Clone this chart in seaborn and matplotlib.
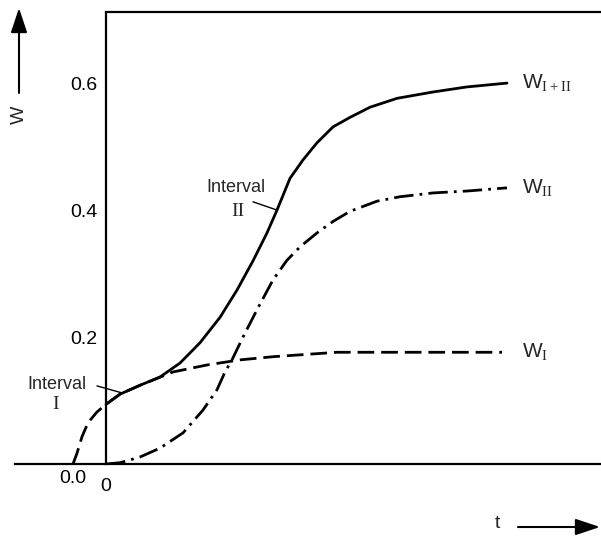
import numpy as np
import pandas as pd
import matplotlib
matplotlib.use("Agg")
import matplotlib.pyplot as plt
import seaborn as sns

# Cumulative curves W(t) for the two intervals and their combination
t_i = [-0.33, -0.29, -0.24, -0.18, -0.09, 0.0, 0.14, 0.34, 0.67, 1.01, 1.34, 1.67,
       2.31, 3.24, 3.96]
w_i = [0.0, 0.017, 0.043, 0.065, 0.082, 0.094, 0.110, 0.124, 0.145, 0.156, 0.164,
       0.169, 0.176, 0.176, 0.176]

t_ii = [0.0, 0.14, 0.34, 0.54, 0.77, 0.97, 1.11, 1.19, 1.26, 1.37, 1.51, 1.67, 1.81,
        1.94, 2.11, 2.27, 2.44, 2.71, 2.94, 3.27, 3.61, 4.01]
w_ii = [0.0, 0.002, 0.011, 0.025, 0.049, 0.085, 0.117, 0.145, 0.164, 0.200, 0.243,
        0.290, 0.321, 0.342, 0.364, 0.382, 0.398, 0.414, 0.421, 0.427, 0.430, 0.435]

t_sum = [0.0, 0.14, 0.34, 0.54, 0.74, 0.94, 1.14, 1.31, 1.47, 1.61, 1.71, 1.84, 1.97,
         2.11, 2.27, 2.44, 2.64, 2.91, 3.27, 3.61, 4.01]
w_sum = [0.094, 0.110, 0.124, 0.137, 0.159, 0.191, 0.231, 0.274, 0.320, 0.364, 0.400,
         0.450, 0.479, 0.506, 0.531, 0.546, 0.562, 0.576, 0.586, 0.594, 0.600]

y_ticks = [0.2, 0.4, 0.6]
y_ticklabels = ["0.2", "0.4", "0.6"]
x_ticks = [-0.33, 0.0]
x_ticklabels = ["0.0", "0"]

series_names = ["W_I", "W_II", "W_I+II"]
curve_labels = [r"$\mathsf{W}_{\mathrm{I}}$", r"$\mathsf{W}_{\mathrm{II}}$",
                r"$\mathsf{W}_{\mathrm{I+II}}$"]

df = pd.concat([
    pd.DataFrame({"t": t_i, "W": w_i, "series": series_names[0]}),
    pd.DataFrame({"t": t_ii, "W": w_ii, "series": series_names[1]}),
    pd.DataFrame({"t": t_sum, "W": w_sum, "series": series_names[2]}),
], ignore_index=True)

sns.set_theme(style="white")
plt.rcParams["font.family"] = ["Liberation Sans", "DejaVu Sans"]
plt.rcParams["mathtext.fontset"] = "custom"
plt.rcParams["mathtext.rm"] = "Liberation Serif"
plt.rcParams["mathtext.sf"] = "Liberation Sans"

fig = plt.figure(figsize=(6.01, 5.37), dpi=100)
ax = fig.add_axes([15 / 601, 73 / 537, 586 / 601, 452 / 537])

x_min, x_max = -0.91, 4.95
y_max = 0.712

sns.lineplot(data=df, x="t", y="W", style="series", color="black", linewidth=2,
             dashes={"W_I": (6, 2.5), "W_II": (7, 2.2, 1, 2.2), "W_I+II": ""},
             estimator=None, sort=False, legend=False, ax=ax)
for line in ax.get_lines():
    line.set_solid_joinstyle("round")
    line.set_dash_joinstyle("round")

ax.set_xlim(x_min, x_max)
ax.set_ylim(0, y_max)
ax.set_xlabel("")
ax.set_ylabel("")

# Spines: vertical axis at t = 0, box open on the right
ax.spines["left"].set_position(("data", 0))
ax.spines["top"].set_bounds(0, x_max)
ax.spines["right"].set_visible(False)
for s in ["left", "top", "bottom"]:
    ax.spines[s].set_color("black")
    ax.spines[s].set_linewidth(1.6)

ax.set_yticks(y_ticks)
ax.set_yticklabels(y_ticklabels)
ax.tick_params(axis="y", direction="in", length=8.5, width=1.0, pad=6,
               labelsize=14, colors="black")
ax.set_xticks(x_ticks)
ax.set_xticklabels(x_ticklabels)
ax.tick_params(axis="x", length=0, labelsize=14, colors="black")
xt = ax.xaxis.get_major_ticks()
xt[0].set_pad(4)
xt[1].set_pad(10)

# Curve end labels
end_y = [w_i[-1], w_ii[-1], w_sum[-1]]
for lab, yv in zip(curve_labels, end_y):
    ax.text(4.16, yv, lab, fontsize=15, va="center", ha="left")

# Interval annotations
ax.text(-0.49, 0.126, "Interval", fontsize=13, ha="center", va="center")
ax.text(-0.50, 0.093, "I", fontsize=14, ha="center", va="center",
        family=["Liberation Serif"])
ax.plot([-0.09, 0.16], [0.123, 0.112], color="black", lw=1.0)

ax.text(1.30, 0.435, "Interval", fontsize=13, ha="center", va="center")
ax.text(1.32, 0.397, "II", fontsize=14, ha="center", va="center",
        family=["Liberation Serif"])
ax.plot([1.47, 1.71], [0.413, 0.400], color="black", lw=1.0)

# Axis direction arrows
arrow = dict(arrowstyle="-|>,head_length=0.6,head_width=0.2", mutation_scale=25,
             lw=1.5, color="black", shrinkA=0, shrinkB=0)
fig.add_artist(matplotlib.patches.FancyArrowPatch(
    (19 / 601, 1 - 93 / 537), (19 / 601, 1 - 8 / 537),
    transform=fig.transFigure, **arrow))
fig.text(19 / 601, 1 - 115 / 537, "W", rotation=90, fontsize=14,
         ha="center", va="center")
fig.add_artist(matplotlib.patches.FancyArrowPatch(
    (518 / 601, 10 / 537), (600 / 601, 10 / 537),
    transform=fig.transFigure, **arrow))
fig.text(497 / 601, 13 / 537, "t", fontsize=14, ha="center", va="center")

fig.savefig("out.png", dpi=100)
